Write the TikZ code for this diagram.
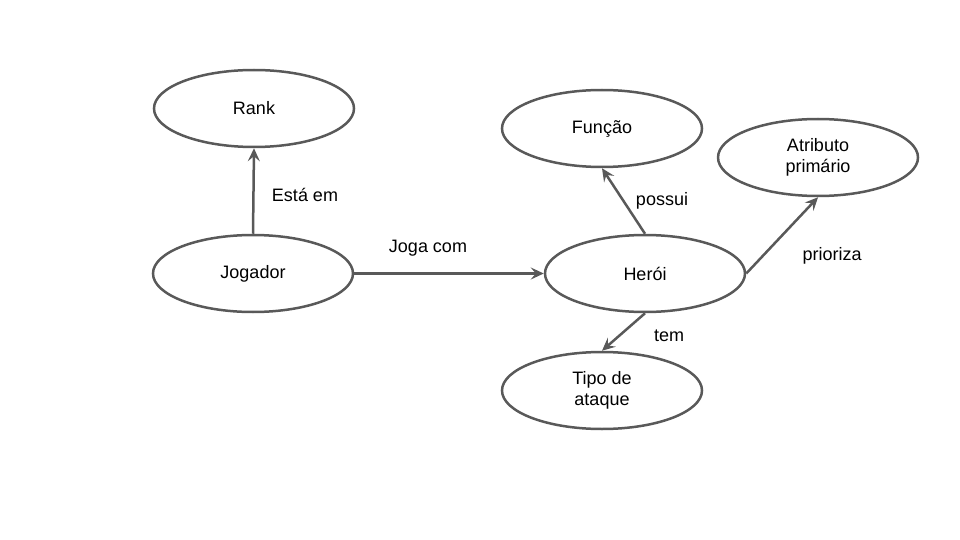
\documentclass[tikz,border=0pt]{standalone}
\usepackage{fontspec}
\setmainfont{Liberation Sans}
\usetikzlibrary{shapes.geometric,arrows.meta}
\definecolor{edgegray}{HTML}{595959}
\tikzset{
  ent/.style={ellipse, draw=edgegray, line width=2.5pt, minimum width=200pt, minimum height=77pt, inner sep=0pt, align=center, font=\fontsize{18}{21}\selectfont, text=black},
  rel/.style={draw=edgegray, line width=2.5pt, -{Stealth[length=13pt,width=12pt,inset=5pt]}},
  lbl/.style={font=\fontsize{18}{21}\selectfont, text=black, inner sep=0pt}
}
\begin{document}
\begin{tikzpicture}[x=1pt,y=-1pt]
\useasboundingbox (0,0) rectangle (960,540);
\node[ent] (rank) at (254,108.5) {Rank};
\node[ent] (jog) at (253,273.5) {Jogador};
\node[ent] (func) at (602,128.5) {Função};
\node[ent] (atr) at (818,157.5) {Atributo\\primário};
\node[ent] (her) at (645,273.5) {Herói};
\node[ent] (tipo) at (602,390.5) {Tipo de\\ataque};
\draw[rel] (jog.north) -- (rank.south);
\draw[rel] (jog.east) -- (her.west);
\draw[rel] (her.north) -- (func.south);
\draw[rel] (her.east) -- (atr.south);
\draw[rel] (her.south) -- (tipo.north);
\node[lbl] (l1) at (305,195) {Está em};
\node[lbl] (l2) at (428,248) {Joga com};
\node[lbl] (l3) at (662,201) {possui};
\node[lbl] (l4) at (832,256) {prioriza};
\node[lbl] (l5) at (669,336) {tem};
\end{tikzpicture}
\end{document}
